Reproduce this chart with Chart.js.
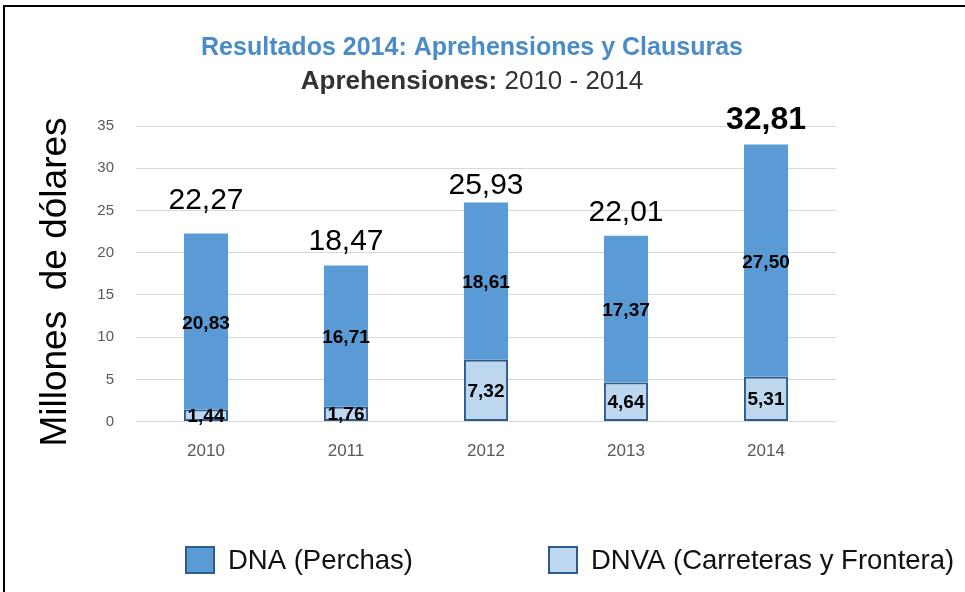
<!DOCTYPE html>
<html><head><meta charset="utf-8">
<script src="https://cdn.jsdelivr.net/npm/chart.js@4"></script>
<style>
html,body{margin:0;padding:0;background:#fff;width:965px;height:592px;overflow:hidden;}
#frame{position:absolute;left:3px;top:5px;width:1000px;height:700px;border:2px solid #000;box-sizing:border-box;}
#wrap{position:absolute;left:0;top:0;width:965px;height:592px;}
</style></head><body>
<div id="frame"></div>
<div id="wrap"><canvas id="c" width="965" height="592"></canvas></div>
<script>
const categories = ['2010','2011','2012','2013','2014'];
const dnaValues = [20.83, 16.71, 18.61, 17.37, 27.50];
const dnvaValues = [1.44, 1.76, 7.32, 4.64, 5.31];
const yTicks = [0,5,10,15,20,25,30,35];
const seriesNames = ['DNA (Perchas)', 'DNVA (Carreteras y Frontera)'];
const titleText = 'Resultados 2014: Aprehensiones y Clausuras';
const subtitleBold = 'Aprehensiones:';
const subtitleNormal = ' 2010 - 2014';
const yTitle = 'Millones  de dólares';
const totalLift = [33, 24, 17, 23, 24];

const FONT = '"Liberation Sans", Arial, sans-serif';
const DARK = '#5B9BD5', LIGHT = '#BDD7EE', EDGE = '#2E5C8A';
const fmt = v => v.toFixed(2).replace('.', ',');

const labelsPlugin = {
  id: 'labels',
  afterDatasetsDraw(chart) {
    const ctx = chart.ctx;
    const mLight = chart.getDatasetMeta(0), mDark = chart.getDatasetMeta(1);
    ctx.save();
    ctx.textAlign = 'center';
    ctx.textBaseline = 'middle';
    ctx.fillStyle = '#000';
    ctx.font = 'bold 19px ' + FONT;
    mLight.data.forEach((b, i) => {
      ctx.fillText(fmt(dnvaValues[i]), b.x, (b.y + b.base) / 2 + 1);
    });
    mDark.data.forEach((b, i) => {
      ctx.fillText(fmt(dnaValues[i]), b.x, (b.y + b.base) / 2 + 2);
    });
    mDark.data.forEach((b, i) => {
      const last = i === categories.length - 1;
      ctx.font = (last ? 'bold 32px ' : '30px ') + FONT;
      ctx.fillText(fmt(dnaValues[i] + dnvaValues[i]), b.x, b.y - totalLift[i]);
    });
    ctx.restore();
  }
};

const headerPlugin = {
  id: 'header',
  afterDraw(chart) {
    const ctx = chart.ctx;
    ctx.save();
    ctx.textBaseline = 'middle';
    ctx.textAlign = 'center';
    ctx.fillStyle = '#4A8CC8';
    ctx.font = 'bold 25px ' + FONT;
    const cx = 472;
    ctx.fillText(titleText, cx, 48);
    ctx.font = 'bold 26px ' + FONT;
    const w1 = ctx.measureText(subtitleBold).width;
    ctx.font = '26px ' + FONT;
    const w2 = ctx.measureText(subtitleNormal).width;
    let x = cx - (w1 + w2) / 2;
    ctx.textAlign = 'left';
    ctx.fillStyle = '#333';
    ctx.font = 'bold 26px ' + FONT;
    ctx.fillText(subtitleBold, x, 82);
    ctx.font = '26px ' + FONT;
    ctx.fillText(subtitleNormal, x + w1, 82);
    // y axis title
    ctx.translate(56, 282);
    ctx.rotate(-Math.PI / 2);
    ctx.textAlign = 'center';
    ctx.fillStyle = '#000';
    ctx.font = '37px ' + FONT;
    ctx.fillText(yTitle, 0, 0);
    ctx.restore();
  }
};

const legendPlugin = {
  id: 'customLegend',
  afterDraw(chart) {
    const ctx = chart.ctx;
    const items = [
      {x: 185, fill: DARK, text: seriesNames[0]},
      {x: 548, fill: LIGHT, text: seriesNames[1]}
    ];
    ctx.save();
    ctx.font = '27.5px ' + FONT;
    ctx.textBaseline = 'middle';
    ctx.textAlign = 'left';
    items.forEach(it => {
      ctx.fillStyle = it.fill;
      ctx.fillRect(it.x, 546, 30, 28);
      ctx.strokeStyle = EDGE;
      ctx.lineWidth = 2;
      ctx.strokeRect(it.x + 1, 547, 28, 26);
      ctx.fillStyle = '#111';
      ctx.fillText(it.text, it.x + 43, 561);
    });
    ctx.restore();
  }
};

new Chart(document.getElementById('c'), {
  type: 'bar',
  data: {
    labels: categories,
    datasets: [
      {label: seriesNames[1], data: dnvaValues, backgroundColor: LIGHT, borderColor: EDGE, borderWidth: 2, borderSkipped: false},
      {label: seriesNames[0], data: dnaValues, backgroundColor: DARK, borderColor: '#4F8CC4', borderWidth: 0}
    ]
  },
  options: {
    responsive: false,
    animation: false,
    events: [],
    layout: {padding: {left: 0, right: 129, top: 126, bottom: 118}},
    datasets: {bar: {categoryPercentage: 1, barPercentage: 0.315}},
    plugins: {legend: {display: false}, tooltip: {enabled: false}},
    scales: {
      x: {
        stacked: true,
        grid: {display: false},
        border: {display: false},
        ticks: {color: '#595959', font: {family: FONT, size: 17}, padding: 12}
      },
      y: {
        stacked: true,
        min: 0, max: 35,
        afterBuildTicks(s) { s.ticks = yTicks.map(v => ({value: v})); },
        afterFit(s) { s.width = 136; },
        grid: {color: '#D9D9D9', lineWidth: 1, drawTicks: false},
        border: {display: false},
        ticks: {color: '#595959', font: {family: FONT, size: 15}, padding: 22}
      }
    }
  },
  plugins: [labelsPlugin, headerPlugin, legendPlugin]
});
</script>
</body></html>
